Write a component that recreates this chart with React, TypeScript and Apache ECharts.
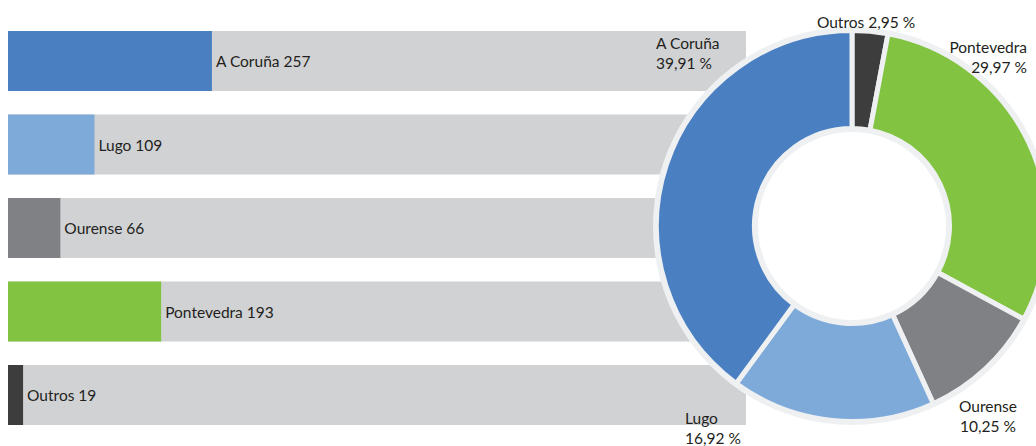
import React, { useEffect, useRef } from "react";
import * as echarts from "echarts";

const categories = ["A Coruña", "Lugo", "Ourense", "Pontevedra", "Outros"];
const values = [257, 109, 66, 193, 19];
const colors = ["#4a80c2", "#7eaada", "#808184", "#82c341", "#3d3d3e"];

// pie runs clockwise from 12 o'clock: Outros, Pontevedra, Ourense, Lugo, A Coruña
const pieOrder = [4, 3, 2, 1, 0];

const FONT = "Lato";
const TEXT = "#231f20";

// label placement for pie labels, by pie index
const pieLabelPos = [
  { x: 866, y: 22, align: "center", oneLine: true },
  { x: 1027, y: 57, align: "right", oneLine: false },
  { x: 988, y: 416, align: "center", oneLine: false },
  { x: 685, y: 428, align: "left", oneLine: false },
  { x: 656, y: 53, align: "left", oneLine: false },
];

export default function App() {
  const ref = useRef<HTMLDivElement>(null);
  useEffect(() => {
    if (!ref.current) return;
    const chart = echarts.init(ref.current, null, { renderer: "svg" });
    const pieData = pieOrder.map((i) => ({
      name: categories[i],
      value: values[i],
      itemStyle: { color: colors[i] },
    }));
    chart.setOption({
      animation: false,
      textStyle: { fontFamily: FONT },
      grid: { left: 8, width: 738, top: 19.25, height: 417.5 },
      xAxis: {
        type: "value",
        min: 0,
        max: 930,
        show: false,
      },
      yAxis: {
        type: "category",
        data: categories,
        inverse: true,
        show: false,
      },
      series: [
        {
          type: "bar",
          barWidth: 60,
          showBackground: true,
          backgroundStyle: { color: "#d1d2d4" },
          data: values.map((v, i) => ({ value: v, itemStyle: { color: colors[i] } })),
          label: {
            show: true,
            position: "right",
            distance: 4,
            color: TEXT,
            fontSize: 15.5,
            fontFamily: FONT,
            formatter: (p: any) => `${p.name} ${p.value}`,
          },
        },
        {
          type: "pie",
          silent: true,
          center: [852, 226],
          radius: [94, 199],
          startAngle: 90,
          data: [{ value: 1, itemStyle: { color: "#eef0f2" } }],
          label: { show: false },
          labelLine: { show: false },
        },
        {
          type: "pie",
          center: [852, 226],
          radius: [97.5, 195.5],
          startAngle: 90,
          clockwise: true,
          itemStyle: { borderColor: "#eef0f2", borderWidth: 5 },
          data: pieData,
          label: {
            show: true,
            position: "inside",
            color: TEXT,
            fontSize: 15.5,
            lineHeight: 20,
            fontFamily: FONT,
            formatter: (p: any) => {
              const pct = p.percent.toFixed(2).replace(".", ",") + " %";
              return pieLabelPos[p.dataIndex].oneLine ? `${p.name} ${pct}` : `${p.name}\n${pct}`;
            },
          },
          labelLine: { show: false },
          labelLayout: (p: any) => {
            const pos = pieLabelPos[p.dataIndex];
            return { x: pos.x, y: pos.y, align: pos.align, verticalAlign: "middle" };
          },
        },
      ],
    });
    return () => chart.dispose();
  }, []);
  return (
    <div
      ref={ref}
      style={{ position: "fixed", left: 0, top: 0, width: 1036, height: 446, background: "#fff" }}
    />
  );
}
